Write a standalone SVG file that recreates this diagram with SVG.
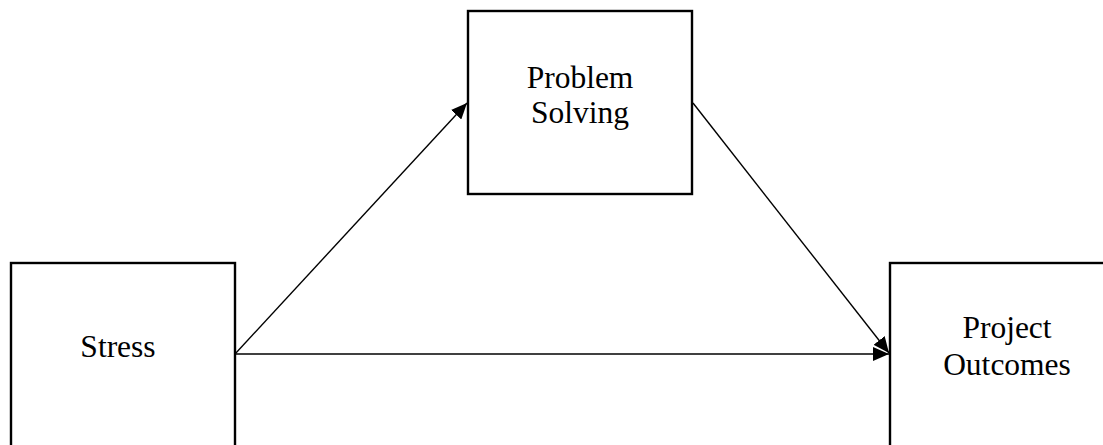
<svg xmlns="http://www.w3.org/2000/svg" width="1103" height="445" viewBox="0 0 1103 445">
<defs>
<marker id="arr" viewBox="0 0 16 14" refX="16" refY="7" markerWidth="16" markerHeight="14" markerUnits="userSpaceOnUse" orient="auto">
<path d="M0,0 L16,7 L0,14 Z" fill="#000"/>
</marker>
<style>
.box{fill:#fff;stroke:#000;stroke-width:2.4}
.lbl{font-family:"Liberation Serif","Times New Roman",serif;font-size:31.5px;fill:#000;text-anchor:middle}
.con{stroke:#000;stroke-width:1.4;fill:none;marker-end:url(#arr)}
</style>
</defs>
<rect width="1103" height="445" fill="#fff"/>
<g id="problem-solving">
<rect class="box" x="468" y="11" width="224" height="183"/>
<text class="lbl" x="580" y="88">Problem</text>
<text class="lbl" x="580" y="123">Solving</text>
</g>
<g id="stress">
<rect class="box" x="11" y="263" width="224" height="200"/>
<text class="lbl" x="118" y="357">Stress</text>
</g>
<g id="project-outcomes">
<rect class="box" x="890" y="263" width="230" height="200"/>
<text class="lbl" x="1007" y="338">Project</text>
<text class="lbl" x="1007" y="375">Outcomes</text>
</g>
<g id="connectors">
<line class="con" x1="235" y1="354" x2="467" y2="103"/>
<line class="con" x1="693" y1="103" x2="889" y2="353"/>
<line class="con" x1="235" y1="354" x2="889" y2="354"/>
</g>
</svg>
